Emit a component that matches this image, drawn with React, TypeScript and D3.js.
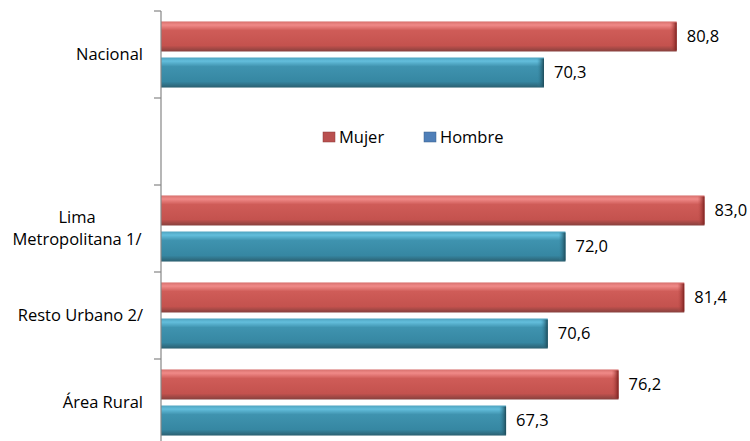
import * as d3 from 'd3';

const categories = ['Nacional', '', 'Lima Metropolitana 1/', 'Resto Urbano 2/', 'Área Rural'];
const categoryLines = [['Nacional'], [], ['Lima', 'Metropolitana 1/'], ['Resto Urbano 2/'], ['Área Rural']];
const series = ['Mujer', 'Hombre'];
const mujer = [80.8, null, 83.0, 81.4, 76.2];
const hombre = [70.3, null, 72.0, 70.6, 67.3];

const W = 750;
const H = 441;
const FONT = "'Open Sans', sans-serif";

const App = () => {
    const x = d3.scaleLinear().domain([40, 90]).range([161, 793]);
    const y = d3.scaleBand().domain(categories).range([11, 446]);
    const inner = d3.scaleBand().domain(series).range([0, y.bandwidth()]).paddingInner(0.167).paddingOuter(0.29);
    const fmt = (v: number) => d3.format('.1f')(v).replace('.', ',');

    const looks = {
        Mujer: { grad: 'gM', end: 'eM', legend: '#b9504f', legendDark: '#8c3a38' },
        Hombre: { grad: 'gH', end: 'eH', legend: '#4f7fb8', legendDark: '#3a5f8a' },
    };

    const bars: any[] = [];
    categories.forEach((c, i) => {
        [mujer[i], hombre[i]].forEach((v, j) => {
            if (v == null) return;
            bars.push({ c, s: series[j], v });
        });
    });

    const ticks = [...categories.map(c => y(c)!), 446];

    return (
        <svg width={W} height={H} style={{ position: 'absolute', left: 0, top: 0, display: 'block' }} fontFamily={FONT}>
            <defs>
                <linearGradient id="gM" x1="0" x2="0" y1="0" y2="1">
                    <stop offset="0" stopColor="#d7706d" />
                    <stop offset="0.12" stopColor="#f08a88" />
                    <stop offset="0.3" stopColor="#cf5c58" />
                    <stop offset="0.8" stopColor="#c4524e" />
                    <stop offset="1" stopColor="#86403d" />
                </linearGradient>
                <linearGradient id="gH" x1="0" x2="0" y1="0" y2="1">
                    <stop offset="0" stopColor="#4fa3bf" />
                    <stop offset="0.12" stopColor="#63bedc" />
                    <stop offset="0.3" stopColor="#3f93af" />
                    <stop offset="0.8" stopColor="#3687a2" />
                    <stop offset="1" stopColor="#2b5f70" />
                </linearGradient>
                <linearGradient id="eM" x1="0" x2="1" y1="0" y2="0">
                    <stop offset="0" stopColor="#c4524e" stopOpacity="0" />
                    <stop offset="1" stopColor="#7a1f1d" />
                </linearGradient>
                <linearGradient id="eH" x1="0" x2="1" y1="0" y2="0">
                    <stop offset="0" stopColor="#3687a2" stopOpacity="0" />
                    <stop offset="1" stopColor="#1d4a58" />
                </linearGradient>
            </defs>

            {bars.map((b, i) => {
                const by = y(b.c)! + inner(b.s)!;
                const bw = x(b.v) - x(40);
                const h = inner.bandwidth();
                const lk = looks[b.s];
                return (
                    <g key={i}>
                        <rect x={x(40)} y={by} width={bw} height={h} fill={`url(#${lk.grad})`} />
                        <rect x={x(b.v) - 7} y={by + 1} width={7} height={h - 2} fill={`url(#${lk.end})`} />
                        <text x={x(b.v) + 10} y={by + h / 2} dy="0.35em" fontSize={16.5} fill="#000">{fmt(b.v)}</text>
                    </g>
                );
            })}

            {/* axis */}
            <line x1={161} x2={161} y1={11} y2={H} stroke="#868686" strokeWidth={1.2} />
            {ticks.map((t, i) => (
                <line key={i} x1={154} x2={161} y1={t} y2={t} stroke="#868686" strokeWidth={1.2} />
            ))}

            {categories.map((c, i) => {
                const lines = categoryLines[i];
                if (!lines.length) return null;
                const cy = y(c)! + y.bandwidth() / 2;
                const lh = 22;
                const y0 = cy - ((lines.length - 1) * lh) / 2;
                // multi-line labels are centred inside a right-aligned block
                const multi = lines.length > 1;
                return (
                    <text key={c} fontSize={16.5} fill="#000" textAnchor={multi ? 'middle' : 'end'}>
                        {lines.map((l, k) => (
                            <tspan key={k} x={multi ? 77 : 143} y={y0 + k * lh} dy="0.35em">{l}</tspan>
                        ))}
                    </text>
                );
            })}

            {/* legend */}
            {series.map((s, i) => {
                const lx = i === 0 ? 323 : 424;
                const lk = looks[s];
                return (
                    <g key={s}>
                        <rect x={lx} y={132} width={12} height={10} fill={lk.legend} stroke={lk.legendDark} strokeWidth={0.5} />
                        <text x={lx + 16} y={137} dy="0.35em" fontSize={16.5} fill="#000">{s}</text>
                    </g>
                );
            })}
        </svg>
    );
};

export default App;
